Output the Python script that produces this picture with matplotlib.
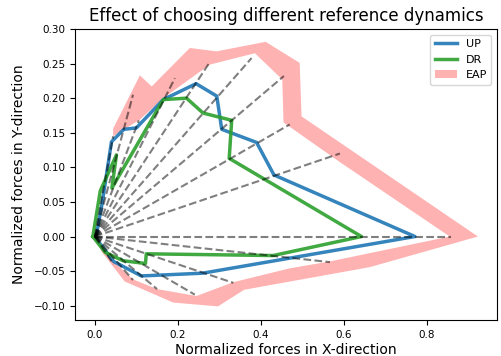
import matplotlib
matplotlib.use("Agg")
import matplotlib.pyplot as plt
import numpy as np

# UP (blue) path
up_x = [0.003, 0.018, 0.040, 0.070, 0.100, 0.165, 0.244, 0.294, 0.306, 0.390, 0.432, 0.772, 0.260, 0.112, 0.045, 0.003]
up_y = [0.000, 0.050, 0.137, 0.155, 0.157, 0.198, 0.221, 0.203, 0.155, 0.136, 0.089, 0.000, -0.053, -0.057, -0.036, -0.003]

# DR (green) path
dr_x = [-0.005, 0.013, 0.052, 0.041, 0.165, 0.221, 0.261, 0.330, 0.324, 0.643, 0.430, 0.124, 0.122, 0.068, 0.025, -0.005]
dr_y = [0.000, 0.066, 0.118, 0.070, 0.198, 0.200, 0.1785, 0.168, 0.113, 0.000, -0.0275, -0.025, -0.039, -0.035, -0.023, 0.000]

# EAP band: outer and inner boundaries
eap_outer_x = [0.044, 0.1085, 0.137, 0.229, 0.2935, 0.412, 0.494, 0.4985, 0.924, 0.663, 0.360, 0.297, 0.189, 0.072, 0.016, 0.006]
eap_outer_y = [0.156, 0.233, 0.217, 0.2726, 0.2677, 0.2815, 0.251, 0.1737, 0.000, -0.0443, -0.077, -0.101, -0.0955, -0.065, -0.022, -0.008]
eap_inner_x = [0.044, 0.1085, 0.165, 0.277, 0.386, 0.452, 0.455, 0.590, 0.856, 0.567, 0.470, 0.334, 0.245, 0.150, 0.092, 0.045, 0.010]
eap_inner_y = [0.145, 0.169, 0.200, 0.2485, 0.265, 0.227, 0.165, 0.108, 0.000, -0.036, -0.046, -0.066, -0.086, -0.076, -0.062, -0.036, -0.005]

# Reference direction rays (end points, starting at origin)
ray_x = [0.044, 0.092, 0.106, 0.193, 0.276, 0.378, 0.456, 0.470, 0.591, 0.860, 0.567, 0.334, 0.241, 0.150, 0.092, 0.045]
ray_y = [0.145, 0.205, 0.168, 0.229, 0.251, 0.258, 0.232, 0.162, 0.120, 0.000, -0.037, -0.067, -0.084, -0.076, -0.063, -0.040]

fig = plt.figure(figsize=(5.01, 3.56), dpi=100)
ax = fig.add_axes([0.1497, 0.1011, 0.992 - 0.1497, 0.9185 - 0.1011])

l_up, = ax.plot(up_x, up_y, color='#1f77b4', lw=2.5, alpha=0.9, label='UP')
l_dr, = ax.plot(dr_x, dr_y, color='#2ca02c', lw=2.5, alpha=0.9, label='DR')
poly_x = eap_outer_x + eap_inner_x[::-1]
poly_y = eap_outer_y + eap_inner_y[::-1]
p_eap, = ax.fill(poly_x, poly_y, color='r', alpha=0.3, lw=0, label='EAP')

for x, y in zip(ray_x, ray_y):
    ax.plot([0, x], [0, y], 'k--', alpha=0.5, lw=1.5)

ax.set_xlim(-0.048, 0.970)
ax.set_ylim(-0.1207, 0.300)
ax.set_xticks([0.0, 0.2, 0.4, 0.6, 0.8])
ax.set_yticks(np.round(np.arange(-0.10, 0.301, 0.05), 2))
ax.tick_params(labelsize=7.5)
ax.set_xlabel('Normalized forces in X-direction', fontsize=10, labelpad=2.5)
ax.set_ylabel('Normalized forces in Y-direction', fontsize=10, labelpad=5.5)
ax.set_title('Effect of choosing different reference dynamics', fontsize=12)
ax.legend(handles=[l_up, l_dr, p_eap], loc='upper right', fontsize=8)

fig.savefig('out.png', dpi=100)
